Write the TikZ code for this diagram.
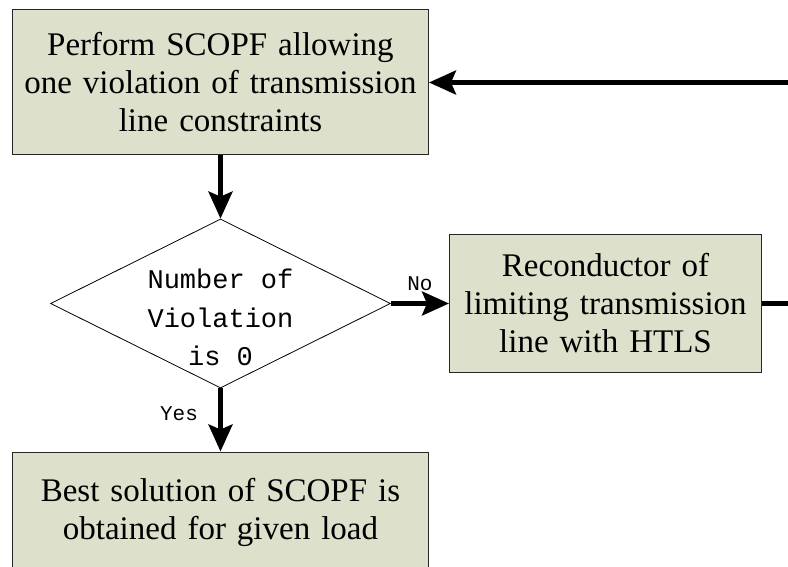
\documentclass[tikz,border=0pt]{standalone}
\usepackage{fontspec}
\setmainfont{Liberation Serif}
\setmonofont{Liberation Mono}
\usepackage{xcolor}
\usepackage{tikz}
\usetikzlibrary{shapes,arrows.meta}
\usetikzlibrary{positioning}
\definecolor{boxfill}{RGB}{221,224,203}
\tikzstyle{block} = [rectangle, draw=black!85, line width=1pt, fill=boxfill,
    text width=400pt, text centered, inner sep=8pt,
    font=\fontsize{33}{38}\selectfont]
\tikzstyle{decision} = [diamond, draw, line width=0.8pt,
    minimum width=340pt, minimum height=169pt, inner sep=0pt]
\tikzstyle{monotext} = [align=center, font=\ttfamily\fontsize{27}{38.5}\selectfont]
\tikzstyle{tag} = [font=\ttfamily\fontsize{21}{24}\selectfont]
\tikzstyle{line} = [draw, line width=4.5pt,
    -{Stealth[length=27pt,width=24pt,inset=5pt]}]

\begin{document}
\begin{tikzpicture}[node distance=221pt, auto]
  \useasboundingbox (-220.5pt,82.5pt) rectangle (567.5pt,-484.5pt);
  % Place nodes
  \node [block, minimum height=145pt] (scopf) {Perform SCOPF allowing\\one violation of transmission\\line constraints};
  \node [decision, below of=scopf] (check) {};
  \node [monotext, yshift=-14pt] (checktext) at (check) {Number of\\Violation\\is 0};
  \node [block, text width=296pt, minimum height=137pt, node distance=385pt, right of=check] (redo) {Reconductor of\\limiting transmission\\line with HTLS};
  \node [block, minimum height=120pt, node distance=208.5pt, below of=check] (best) {Best solution of SCOPF is\\obtained for given load};
  % Draw edges
  \path [line] (scopf) -- (check);
  \path [line] (check) -- node [tag, above=7pt] {No} (redo);
  \path [line] (check) -- node [tag, left=17pt, pos=0.4] {Yes} (best);
  \path [line] (redo.east) -- ++(60pt,0) |- (scopf.east);
\end{tikzpicture}
\end{document}
